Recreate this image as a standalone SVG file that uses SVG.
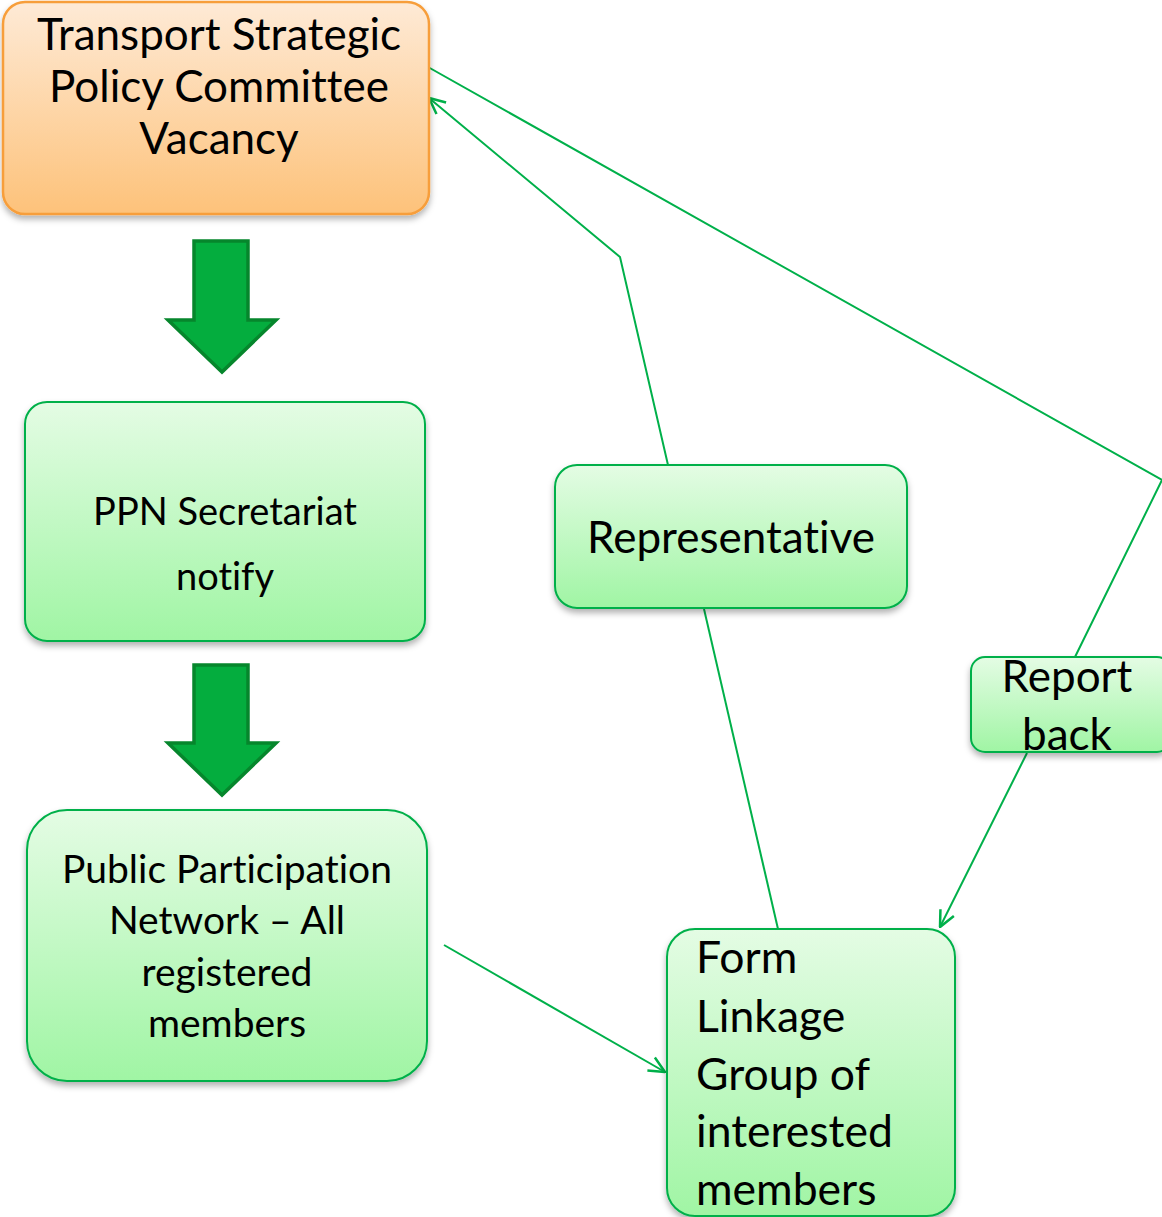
<svg xmlns="http://www.w3.org/2000/svg" width="1162" height="1217" viewBox="0 0 1162 1217">
<defs>
<linearGradient id="gOrange" x1="0" y1="0" x2="0" y2="1">
<stop offset="0" stop-color="#FEEAD6"/>
<stop offset="1" stop-color="#FDC27A"/>
</linearGradient>
<linearGradient id="gGreen" x1="0" y1="0" x2="0" y2="1">
<stop offset="0" stop-color="#E4FCE4"/>
<stop offset="1" stop-color="#A0F5A4"/>
</linearGradient>
<filter id="shadow" x="-10%" y="-10%" width="120%" height="125%">
<feDropShadow dx="0" dy="4" stdDeviation="3" flood-color="#000" flood-opacity="0.3"/>
</filter>
<marker id="open" viewBox="0 0 18 18" refX="17" refY="9" markerWidth="18" markerHeight="18" markerUnits="userSpaceOnUse" orient="auto">
<path d="M1,1.5 L17,9 L1,16.5" fill="none" stroke="#00B04A" stroke-width="2.5"/>
</marker>
</defs>
<style>
.orange{fill:url(#gOrange);stroke:#F79E3A;stroke-width:2.5;filter:url(#shadow)}
.green{fill:url(#gGreen);stroke:#00B04A;stroke-width:2;filter:url(#shadow)}
.block{fill:#04AD3E;stroke:#06862C;stroke-width:3.5;stroke-linejoin:miter}
.t{font-family:Lato,"Open Sans","Liberation Sans",sans-serif;fill:#000;font-variant-ligatures:none}
.c{fill:none;stroke:#00B04A;stroke-width:2}
</style>
<rect width="1162" height="1217" fill="#fff"/>
<g id="connectors">
<polyline class="c" points="668,465 620,257 429,98" marker-end="url(#open)"/>
<polyline class="c" points="428,67 1162,480 1075,657"/>
<line class="c" x1="1027" y1="753" x2="940" y2="927" marker-end="url(#open)"/>
<line class="c" x1="704" y1="609" x2="778" y2="929"/>
<line class="c" x1="444" y1="945" x2="665" y2="1072" marker-end="url(#open)"/>
</g>
<g id="arrow1"><path class="block" d="M194,241 H248 V320 H276 L222,372 L168,320 H194 Z"/></g>
<g id="arrow2"><path class="block" d="M194,665 H248 V743 H276 L222,795 L168,743 H194 Z"/></g>
<g id="node-tspc">
<rect class="orange" x="3" y="2" width="426" height="212" rx="22"/>
<text class="t" font-size="44" text-anchor="middle"><tspan x="219" y="50">Transport Strategic</tspan><tspan x="219" y="102">Policy Committee</tspan><tspan x="219" y="154">Vacancy</tspan></text>
</g>
<g id="node-ppn">
<rect class="green" x="25" y="402" width="400" height="239" rx="22"/>
<text class="t" font-size="38" text-anchor="middle"><tspan x="225" y="525">PPN Secretariat</tspan><tspan x="225" y="590">notify</tspan></text>
</g>
<g id="node-public">
<rect class="green" x="27" y="810" width="400" height="271" rx="40"/>
<text class="t" font-size="39" text-anchor="middle"><tspan x="227" y="883">Public Participation</tspan><tspan x="227" y="934">Network – All</tspan><tspan x="227" y="986">registered</tspan><tspan x="227" y="1037">members</tspan></text>
</g>
<g id="node-rep">
<rect class="green" x="555" y="465" width="352" height="143" rx="22"/>
<text class="t" font-size="44" text-anchor="middle" x="731" y="553">Representative</text>
</g>
<g id="node-report">
<rect class="green" x="971" y="657" width="200" height="95" rx="14"/>
<text class="t" font-size="44" text-anchor="middle"><tspan x="1067" y="692">Report</tspan><tspan x="1067" y="750">back</tspan></text>
</g>
<g id="node-form">
<rect class="green" x="667" y="929" width="288" height="287" rx="28"/>
<text class="t" font-size="44.5"><tspan x="696" y="973">Form</tspan><tspan x="696" y="1032">Linkage</tspan><tspan x="696" y="1090">Group of</tspan><tspan x="696" y="1147">interested</tspan><tspan x="696" y="1205">members</tspan></text>
</g>
</svg>
